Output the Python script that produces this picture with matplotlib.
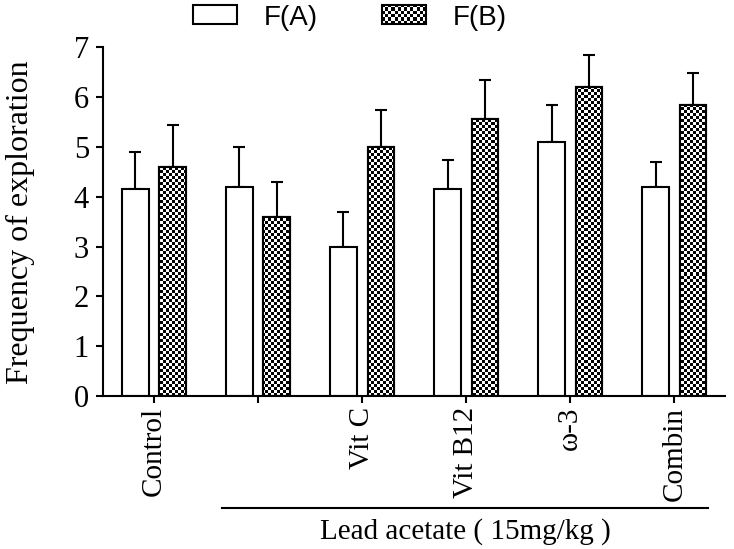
"""Frequency of exploration bar chart, F(A) vs F(B)."""

import numpy as np
import matplotlib
matplotlib.use("Agg")
import matplotlib.pyplot as plt
from matplotlib.patches import Rectangle
from matplotlib.legend_handler import HandlerBase
from matplotlib.image import BboxImage
from matplotlib.transforms import Bbox, TransformedBbox

groups = ["Control", "", "Vit C", "Vit B12", "\u03c9-3", "Combin"]
fa_mean = [4.15, 4.20, 3.00, 4.15, 5.10, 4.20]
fa_err = [0.75, 0.80, 0.70, 0.60, 0.75, 0.50]
fb_mean = [4.60, 3.60, 5.00, 5.57, 6.20, 5.85]
fb_err = [0.85, 0.70, 0.75, 0.78, 0.65, 0.63]
yticks = [0, 1, 2, 3, 4, 5, 6, 7]
series_labels = ["F(A)", "F(B)"]
group_label = "Lead acetate ( 15mg/kg )"

SERIF = ["Liberation Serif", "DejaVu Serif"]
SANS = ["Liberation Sans", "DejaVu Sans"]
LW = 1.5
CELL = 3  # checker cell size, px


def checker(rows, cols):
    r, c = np.indices((rows, cols))
    return ((r + c) % 2).astype(float)


class CheckerHandler(HandlerBase):
    def create_artists(self, legend, orig_handle, xdescent, ydescent,
                       width, height, fontsize, trans):
        box = Bbox.from_bounds(-xdescent, -ydescent, width, height)
        img = BboxImage(TransformedBbox(box, trans), cmap="gray",
                        interpolation="nearest", norm=plt.Normalize(0, 1))
        img.set_data(checker(6, 14))
        edge = Rectangle((-xdescent, -ydescent), width, height, fc="none",
                         ec="black", lw=LW, transform=trans)
        return [img, edge]


fig = plt.figure(figsize=(7.34, 5.49), dpi=100)
ax = fig.add_axes([0.1403, 0.2787, 0.848, 0.6348])

x = np.arange(len(groups))
off = 0.18
width = 0.256

bars_a = ax.bar(x - off, fa_mean, width, color="white", edgecolor="black",
                linewidth=LW, zorder=2)
bars_b = ax.bar(x + off, fb_mean, width, color="white", edgecolor="black",
                linewidth=LW, zorder=2)
ax.errorbar(x - off, fa_mean, yerr=[np.zeros(len(fa_err)), fa_err], fmt="none",
            ecolor="black", elinewidth=LW, capsize=4.5, capthick=LW, zorder=1)
ax.errorbar(x + off, fb_mean, yerr=[np.zeros(len(fb_err)), fb_err], fmt="none",
            ecolor="black", elinewidth=LW, capsize=4.5, capthick=LW, zorder=1)

xlim = (-0.49, 5.49)
ylim = (0, 7)
ax.set_xlim(*xlim)
ax.set_ylim(*ylim)

# checkerboard fill for F(B), clipped to each bar
ext = ax.get_window_extent()
pattern = checker(int(ext.height / CELL), int(ext.width / CELL))
for bar in bars_b:
    im = ax.imshow(pattern, cmap="gray", interpolation="nearest", aspect="auto",
                   extent=(xlim[0], xlim[1], ylim[0], ylim[1]), zorder=2.5,
                   vmin=0, vmax=1)
    im.set_clip_path(bar)
for bar in bars_b:
    ax.add_patch(Rectangle(bar.get_xy(), bar.get_width(), bar.get_height(),
                           fc="none", ec="black", lw=LW, zorder=3))
ax.set_xlim(*xlim)
ax.set_ylim(*ylim)

ax.set_yticks(yticks)
ax.set_yticklabels([str(v) for v in yticks], family=SERIF, fontsize=22)
ax.set_xticks(x)
ax.set_xticklabels(groups, rotation=90, family=SERIF, fontsize=21, va="top")
ax.tick_params(axis="both", width=LW, length=5, color="black")
ax.tick_params(axis="y", pad=5)
ax.tick_params(axis="x", pad=3)
ax.set_ylabel("Frequency of exploration", family=SERIF, fontsize=23, labelpad=28)

for side in ("top", "right"):
    ax.spines[side].set_visible(False)
for side in ("left", "bottom"):
    ax.spines[side].set_linewidth(LW)

# bracket under the lead acetate groups
trans = ax.get_xaxis_transform()
ax.plot([0.65, 5.32], [-0.321, -0.321], color="black", lw=LW, transform=trans,
        clip_on=False)
ax.text(2.99, -0.39, group_label, transform=trans, ha="center", va="center",
        family=SERIF, fontsize=21)

handles = [Rectangle((0, 0), 1, 1, fc="white", ec="black", lw=LW), "checker"]
fig.legend(handles, series_labels, loc="center", bbox_to_anchor=(0.477, 0.968),
           ncol=2, frameon=False, prop={"family": SANS, "size": 20},
           handlelength=1.58, handleheight=0.68, handletextpad=0.97,
           columnspacing=2.3, borderpad=0.1, handler_map={str: CheckerHandler()})

fig.savefig("out.png", dpi=100)
